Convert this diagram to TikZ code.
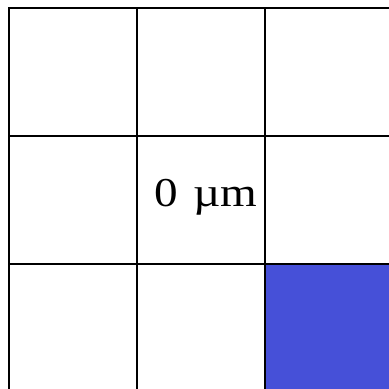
\documentclass[tikz,border=0pt]{standalone}
\usepackage{fontspec}
\setmainfont{Liberation Serif}
\usetikzlibrary{positioning}
\definecolor{cellblue}{HTML}{4650D8}

\begin{document}
\begin{tikzpicture}[x=1pt,y=1pt]
\useasboundingbox (0,0) rectangle (389,389);

\tikzset{cell/.style={rectangle, draw=black, line width=1.5pt,
      minimum width=128pt, minimum height=128pt, inner sep=0pt}}

\node[cell] (c11) at (73,317) {};
\node[cell] (c12) at (201,317) {};
\node[cell] (c13) at (329,317) {};
\node[cell] (c21) at (73,189) {};
\node[cell] (c22) at (201,189) {};
\node[cell] (c23) at (329,189) {};
\node[cell] (c31) at (73,61) {};
\node[cell] (c32) at (201,61) {};
\node[cell, fill=cellblue] (c33) at (329,61) {};

\node[font=\fontsize{41}{48}\selectfont, inner sep=0pt, anchor=base]
  (lbl) at (206,182) {\scalebox{1.15}[1]{0\hspace{0.33em}µm}};
\end{tikzpicture}
\end{document}
